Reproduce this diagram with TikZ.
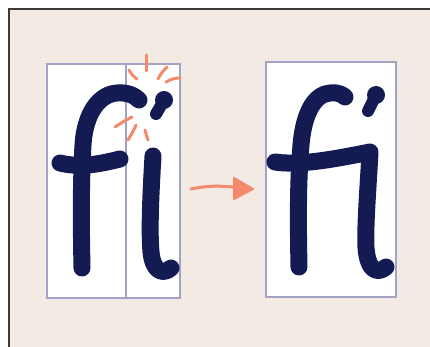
\documentclass[tikz,border=0pt]{standalone}
\definecolor{bg}{HTML}{F3EBE3}
\definecolor{frame}{HTML}{A4A2C4}
\definecolor{ink}{HTML}{141A52}
\definecolor{spark}{HTML}{F4896B}
\definecolor{edge}{HTML}{3C3A38}
\tikzset{
  box/.style={draw=frame, fill=white, line width=2.4pt},
  glyph/.style={draw=ink, line width=17pt, line cap=round, line join=round},
  sparkline/.style={draw=spark, line width=3pt, line cap=round},
}
\begin{document}
\begin{tikzpicture}[x=1pt, y=-1pt]
\useasboundingbox (0,0) rectangle (430,347);
\fill[white] (0,0) rectangle (430,347);
\fill[bg] (9,9) rectangle (431,348);
\draw[edge, line width=1.3pt] (9,348) -- (9,9) -- (431,9);
% left boxes
\draw[box] (47,64) rectangle (180,298);
\draw[frame, line width=2.4pt] (126,64) -- (126,298);
% right box
\draw[box] (266,62) rectangle (396,297);
% left f
\draw[glyph] (82,268) .. controls (81,220) and (81,180) .. (83,145)
  .. controls (85,112) and (100,94) .. (117,93) .. controls (128,92) and (135,96) .. (139,100);
\draw[glyph] (60,163) .. controls (80,168) and (100,164) .. (120,159);
% left i
\fill[ink] (164,100) circle (9);
\draw[ink, line width=12pt, line cap=round] (163,102) -- (156,114);
\draw[glyph] (153,156) .. controls (151,190) and (149,230) .. (151,252)
  .. controls (153,272) and (163,275) .. (171,268);
% sparks
\draw[sparkline] (146,55) -- (146,71);
\draw[sparkline] (158,79) .. controls (161,73) and (164,70) .. (167,67);
\draw[sparkline] (166,82) .. controls (171,79) and (175,78) .. (180,78);
\draw[sparkline] (129,70) .. controls (131,74) and (134,77) .. (137,79);
\draw[sparkline] (115,127) .. controls (121,123) and (126,120) .. (132,117);
\draw[sparkline] (128,140) .. controls (131,135) and (134,130) .. (136,125);
\draw[sparkline] (145,130) .. controls (146,134) and (147,137) .. (148,140);
% right fi ligature
\draw[glyph] (299,267) .. controls (298,220) and (298,180) .. (301,145)
  .. controls (304,110) and (316,94) .. (330,93) .. controls (338,92) and (343,95) .. (345,97);
\draw[glyph] (275,162) .. controls (300,166) and (340,158) .. (370,152)
  .. controls (368,190) and (365,225) .. (366,248)
  .. controls (368,272) and (378,274) .. (386,267);
\fill[ink] (376,95) circle (9);
\draw[ink, line width=12pt, line cap=round] (375,97) -- (368,111);
% arrow
\draw[spark, line width=3pt, line cap=round] (191,189) .. controls (205,186) and (220,185) .. (240,188);
\fill[spark, draw=spark, line width=2pt, line join=round] (234,178) -- (253,189) -- (234,199) -- cycle;
\end{tikzpicture}
\end{document}
